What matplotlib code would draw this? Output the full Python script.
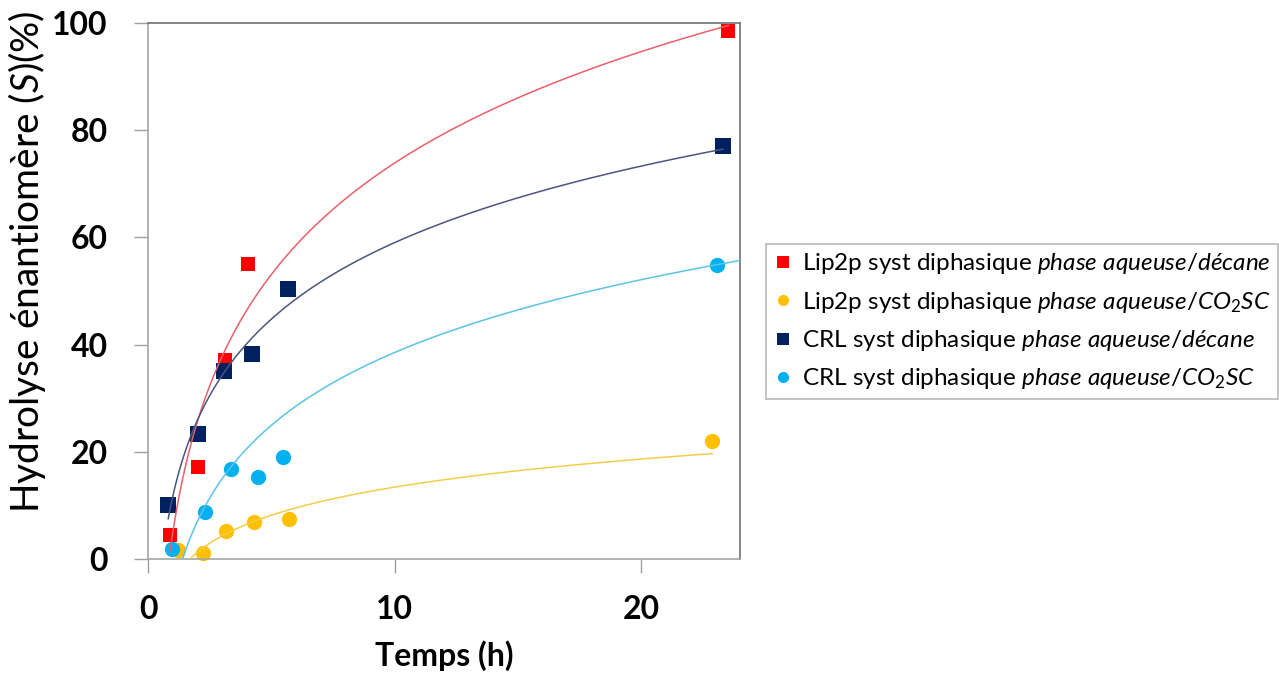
import numpy as np
import matplotlib
matplotlib.use('Agg')
import matplotlib.pyplot as plt
from matplotlib.lines import Line2D

plt.rcParams['font.family'] = ['Lato', 'DejaVu Sans']
plt.rcParams['mathtext.fontset'] = 'custom'
plt.rcParams['mathtext.rm'] = 'Lato'
plt.rcParams['mathtext.it'] = 'Lato:italic'
plt.rcParams['mathtext.bf'] = 'Lato:bold'

# measured points (time h, % hydrolysis)
lip_dec_t = [0.89, 2.02, 3.14, 4.04, 23.53]
lip_dec_y = [4.5, 17.1, 37.2, 55.1, 98.6]
lip_co2_t = [1.22, 2.21, 3.17, 4.31, 5.73, 22.87]
lip_co2_y = [1.7, 1.1, 5.3, 6.9, 7.5, 22.0]
crl_dec_t = [0.82, 2.04, 3.08, 4.23, 5.69, 23.3]
crl_dec_y = [10.0, 23.3, 35.0, 38.2, 50.3, 77.1]
crl_co2_t = [0.96, 2.30, 3.38, 4.46, 5.46, 23.05]
crl_co2_y = [1.8, 8.7, 16.8, 15.3, 19.1, 54.9]

# logarithmic trendlines y = a*ln(t) + b
trend_a = [30.0, 7.56, 20.6, 19.6]
trend_b = [4.8, -4.0, 11.6, -6.6]
trend_end = [23.53, 22.87, 23.3, 24.0]

labels = [
    r'Lip2p syst diphasique $\mathit{phase\ aqueuse/décane}$',
    r'Lip2p syst diphasique $\mathit{phase\ aqueuse/CO_2SC}$',
    r'CRL syst diphasique $\mathit{phase\ aqueuse/décane}$',
    r'CRL syst diphasique $\mathit{phase\ aqueuse/CO_2SC}$',
]
series_t = [lip_dec_t, lip_co2_t, crl_dec_t, crl_co2_t]
series_y = [lip_dec_y, lip_co2_y, crl_dec_y, crl_co2_y]
marker_colors = ['#FF0000', '#FFC000', '#002060', '#00B0F0']
line_colors = ['#E8606A', '#F5CC4A', '#4A5580', '#5CC3E2']
markers = ['s', 'o', 's', 'o']
msizes = [10, 11, 11.5, 11]

fig = plt.figure(figsize=(12.79, 6.73), dpi=100)
ax = fig.add_axes([148 / 1279, 1 - 559 / 673, 592 / 1279, 536 / 673])

for i in range(4):
    ax.plot(series_t[i], series_y[i], linestyle='none', marker=markers[i],
            markersize=msizes[i], color=marker_colors[i], markeredgewidth=0,
            zorder=2, clip_on=False)

# trendlines drawn over the markers, like the original
for i in range(4):
    tt = np.linspace(series_t[i][0], trend_end[i], 300)
    ax.plot(tt, trend_a[i] * np.log(tt) + trend_b[i], color=line_colors[i],
            linewidth=1.1, zorder=3)

ax.set_xlim(0, 24)
ax.set_ylim(0, 100)
ax.set_xticks([0, 10, 20])
ax.set_yticks([0, 20, 40, 60, 80, 100])
for lab in ax.get_xticklabels() + ax.get_yticklabels():
    lab.set_fontweight('bold')
ax.tick_params(axis='both', direction='out', length=10, width=1, color='#A0A0A0',
               labelsize=23)
ax.tick_params(axis='x', pad=16)
ax.tick_params(axis='y', pad=19)

for s in ['left', 'bottom']:
    ax.spines[s].set_color('#A6A6A6')
    ax.spines[s].set_linewidth(1.2)
for s in ['top', 'right']:
    ax.spines[s].set_color('#707070')
    ax.spines[s].set_linewidth(1.2)

fig.text(27 / 1279, 1 - 262 / 673, r'Hydrolyse énantiomère ($\mathit{S}$)(%)',
         rotation=90, ha='center', va='center', fontsize=28)
fig.text(444 / 1279, 1 - 656 / 673, 'Temps (h)', ha='center', va='center',
         fontsize=23, fontweight='bold')

handles = [Line2D([], [], linestyle='none', marker=markers[i], markersize=8,
                  color=marker_colors[i], markeredgewidth=0) for i in range(4)]
leg = fig.legend(handles, labels, loc='upper left',
                 bbox_to_anchor=(766 / 1279, 1 - 244 / 673),
                 fontsize=17.5, frameon=True, fancybox=False, edgecolor='#A6A6A6',
                 handlelength=0.8, handletextpad=0.4, labelspacing=0.55,
                 borderpad=0.3, borderaxespad=0)
leg.get_frame().set_linewidth(1.2)

fig.savefig('out.png', dpi=100)
